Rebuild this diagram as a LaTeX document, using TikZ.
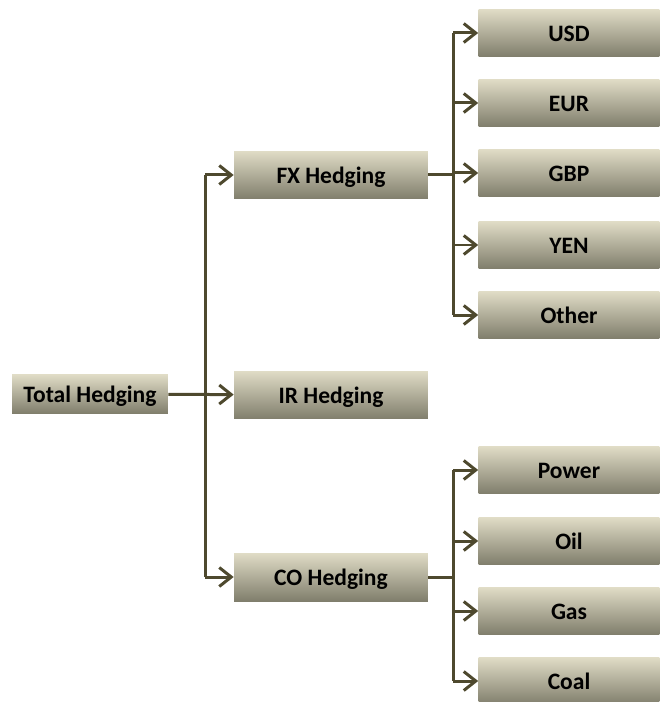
\documentclass[tikz,border=0pt]{standalone}
\usepackage{fontspec}
\setmainfont{Carlito}
\usetikzlibrary{arrows.meta}

\definecolor{boxtop}{HTML}{E0DCC6}
\definecolor{boxbot}{HTML}{807E6C}
\definecolor{linkc}{HTML}{4E492E}

\tikzset{
  hbox/.style={top color=boxtop, bottom color=boxbot, inner sep=0pt,
    font=\fontsize{13.4}{15}\selectfont\bfseries, text=black,
    text height=0.95em, text depth=0.02em},
  link/.style={draw=linkc, line width=0.06cm},
  arr/.style={link, -{Straight Barb[length=0.24cm,width=0.38cm,line width=0.06cm]}}
}

\begin{document}
\begin{tikzpicture}[x=0.02cm,y=-0.02cm]
  \useasboundingbox (0,0) rectangle (662,702);

  % linke Spalte
  \node[hbox, minimum width=3.12cm, minimum height=0.78cm] (total) at (90,394) {Total Hedging};
  \node[hbox, minimum width=3.88cm, minimum height=0.96cm] (fx) at (331,175) {FX Hedging};
  \node[hbox, minimum width=3.88cm, minimum height=0.96cm] (ir) at (331,395) {IR Hedging};
  \node[hbox, minimum width=3.88cm, minimum height=0.96cm] (co) at (331,577) {CO Hedging};

  % rechte Spalte
  \foreach \name/\txt/\ypos in {usd/USD/33, eur/EUR/103, gbp/GBP/173, yen/YEN/245, other/Other/315,
                                power/Power/470, oil/Oil/541, gas/Gas/611, coal/Coal/681} {
    \node[hbox, minimum width=3.62cm, minimum height=0.94cm] (\name) at (569,\ypos) {\txt};
  }

  % Verbindungen
  \coordinate (trunk) at (205,395);
  \draw[link] (trunk |- fx) -- (trunk |- co);
  \draw[arr] (total) -- (ir);
  \draw[arr] (trunk |- fx) -- (fx);
  \draw[arr] (trunk |- co) -- (co);

  \coordinate (fxbus) at (453,175);
  \draw[link] (fx) -- (fxbus);
  \draw[link] (fxbus |- usd) -- (fxbus |- other);
  \foreach \n in {usd,eur,gbp,yen,other} {
    \draw[arr] (fxbus |- \n) -- (\n);
  }

  \coordinate (cobus) at (453,577);
  \draw[link] (co) -- (cobus);
  \draw[link] (cobus |- power) -- (cobus |- coal);
  \foreach \n in {power,oil,gas,coal} {
    \draw[arr] (cobus |- \n) -- (\n);
  }
\end{tikzpicture}
\end{document}
